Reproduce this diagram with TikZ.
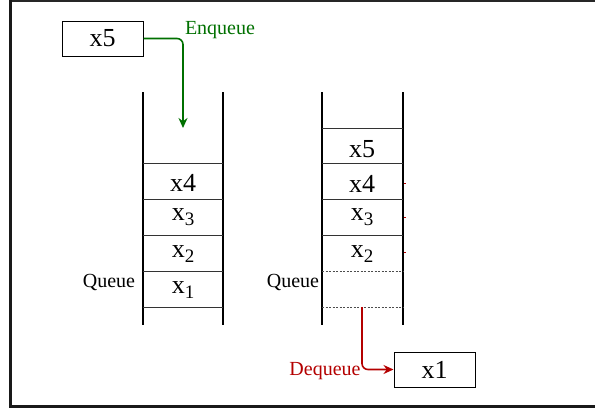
\documentclass[tikz,border=0pt]{standalone}
\usepackage{fontspec}
\setmainfont{Liberation Serif}
\usetikzlibrary{arrows.meta}
\definecolor{enqgreen}{RGB}{0,112,0}
\definecolor{deqred}{RGB}{180,0,0}
\newcommand{\xsub}[1]{x\raisebox{-4.5pt}{\fontsize{19}{19}\selectfont #1}}
\begin{document}
\begin{tikzpicture}[x=1pt,y=-1pt,
  lab/.style={font=\fontsize{26}{26}\selectfont, inner sep=0pt},
  side/.style={font=\fontsize{20}{20}\selectfont, inner sep=0pt},
  wall/.style={line width=1.2pt, black},
  sep/.style={line width=0.8pt, black!80},
  dsep/.style={line width=0.8pt, black!70, dash pattern=on 2pt off 1.5pt},
  box/.style={draw, line width=1pt, minimum width=81pt, minimum height=35pt, inner sep=0pt, font=\fontsize{26}{26}\selectfont},
  enq/.style={-{Stealth[length=10pt,width=9pt]}, line width=1.6pt, draw=enqgreen, rounded corners=6pt},
  deq/.style={-{Stealth[length=10pt,width=9pt]}, line width=1.6pt, draw=deqred, rounded corners=6pt},
  tick/.style={line width=1pt, deqred}
]
\useasboundingbox (0,0) rectangle (595,410);
% frame
\draw[line width=1.5pt, black!85] (10,1) -- (595,1);
\draw[line width=3pt, black!90] (10,0) -- (10,406) -- (595,406);

% boxes
\node[box] (x5box) at (102.5,38.5) {x5};
\node[box] (x1box) at (434.5,369.5) {x1};

% left queue
\draw[wall] (143,92) -- (143,325);
\draw[wall] (223,92) -- (223,325);
\foreach \yy in {163,199,235,271,307} \draw[sep] (143,\yy) -- (223,\yy);
\node[lab] (l4) at (183,183) {x4};
\node[lab] (l3) at (183,217) {\xsub{3}};
\node[lab] (l2) at (183,254) {\xsub{2}};
\node[lab] (l1) at (183,290) {\xsub{1}};
\node[side] (lq) at (109,282) {Queue};

% right queue
\draw[wall] (322,92) -- (322,325);
\draw[wall] (403,92) -- (403,325);
\foreach \yy in {128,163,199,235} \draw[sep] (322,\yy) -- (403,\yy);
\draw[dsep] (322,271) -- (403,271);
\draw[dsep] (322,307) -- (403,307);
\node[lab] (r5) at (362,149) {x5};
\node[lab] (r4) at (362,184) {x4};
\node[lab] (r3) at (362,217) {\xsub{3}};
\node[lab] (r2) at (362,254) {\xsub{2}};
\node[side] (rq) at (293,282) {Queue};
\draw[tick] (403.5,183) -- (405.5,183);
\draw[tick] (403.5,217) -- (405.5,217);
\draw[tick] (403.5,252) -- (405.5,252);

% enqueue
\coordinate (enqend) at (183,128);
\draw[enq] (x5box.east) -| (enqend);
\node[side, text=enqgreen] (enqlab) at (220,30) {Enqueue};

% dequeue
\coordinate (deqstart) at (362,307);
\draw[deq] (deqstart) |- (x1box.west);
\node[side, text=deqred] (deqlab) at (325,371) {Dequeue};
\end{tikzpicture}
\end{document}
